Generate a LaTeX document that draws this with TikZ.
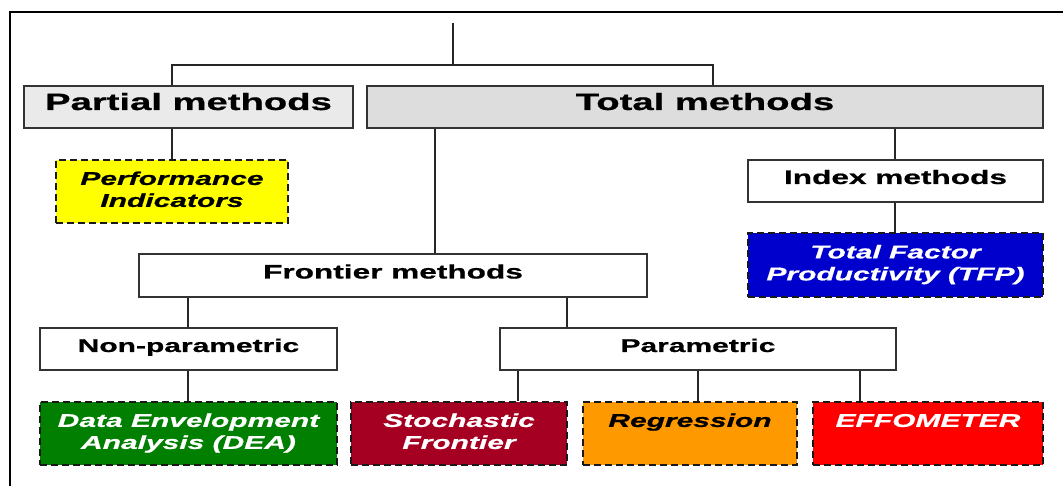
\documentclass[tikz,border=0pt]{standalone}
\usepackage{fontspec}
\setmainfont{Liberation Sans}[FakeStretch=1.62,
  BoldFeatures={FakeBold=0.8}, BoldItalicFeatures={FakeBold=0.8}]
\usetikzlibrary{calc}

\definecolor{partialgray}{HTML}{EAEAEA}
\definecolor{totalgray}{HTML}{DDDDDD}
\definecolor{piyellow}{HTML}{FFFF00}
\definecolor{tfpblue}{HTML}{0000CC}
\definecolor{deagreen}{HTML}{007F00}
\definecolor{sfred}{HTML}{A50021}
\definecolor{regorange}{HTML}{FF9900}
\definecolor{effored}{HTML}{FF0000}
\definecolor{edge}{HTML}{333333}

\tikzset{
  bigbox/.style={draw=edge, line width=1.3pt, inner sep=0pt,
    font=\bfseries\fontsize{23.6}{28}\selectfont, text height=17pt, text depth=11pt},
  midbox/.style={draw=edge, line width=1.3pt, inner sep=0pt, fill=white,
    font=\bfseries\fontsize{18.5}{22}\selectfont, text height=14pt, text depth=8pt},
  widebox/.style={midbox, font=\bfseries\fontsize{19.5}{22}\selectfont},
  leafbox/.style={draw=black!90, line width=2.4pt, dash pattern=on 7pt off 4pt,
    inner sep=0pt, align=center,
    font=\bfseries\itshape\fontsize{18.5}{22}\selectfont},
  link/.style={draw=black!85, line width=1.3pt},
  frame/.style={draw=black, line width=2.2pt}
}

\begin{document}
\begin{tikzpicture}[x=1pt,y=-1pt]
\useasboundingbox (0,0) rectangle (1063,486);

% outer frame (top and left sides)
\draw[frame] (10,486) -- (10,12) -- (1063,12);

% first level
\node[bigbox, fill=partialgray, minimum width=329, minimum height=42] (partial) at (188.5,107) {Partial methods};
\node[bigbox, fill=totalgray, minimum width=676, minimum height=42] (total) at (705,107) {Total methods};

% second level
\node[leafbox, fill=piyellow, text=black, minimum width=232, minimum height=63] (perf) at (172,191.5) {\strut Performance\\Indicators\strut};
\node[widebox, minimum width=295, minimum height=42] (index) at (895.5,181) {Index methods};
\node[leafbox, fill=tfpblue, text=white, minimum width=295, minimum height=64] (tfp) at (895.5,265) {\strut Total Factor\\Productivity (TFP)\strut};
\node[widebox, minimum width=508, minimum height=43] (frontier) at (393,275.5) {Frontier methods};

% third level
\node[midbox, minimum width=297, minimum height=42] (nonpar) at (188.5,349) {Non-parametric};
\node[midbox, minimum width=396, minimum height=42] (par) at (698,349) {Parametric};

% techniques
\node[leafbox, fill=deagreen, text=white, minimum width=297, minimum height=63] (dea) at (188.5,433.5) {\strut Data Envelopment\\Analysis (DEA)\strut};
\node[leafbox, fill=sfred, text=white, minimum width=216, minimum height=63] (sfa) at (459,433.5) {\strut Stochastic\\Frontier\strut};
\node[leafbox, fill=regorange, text=black, minimum width=214, minimum height=63] (regr) at (690,433.5) {\strut Regression\\\strut};
\node[leafbox, fill=effored, text=white, minimum width=230, minimum height=63] (effo) at (928,433.5) {\strut EFFOMETER\\\strut};

% connectors
\coordinate (root) at (453,23);
\coordinate (split) at (453,65);
\draw[link] (root) -- (split);
\draw[link] (partial.north -| 172,0) -- (172,65) -- (713,65) -- (total.north -| 713,0);
\draw[link] (partial.south -| 172,0) -- (perf.north -| 172,0);
\draw[link] (total.south -| 435,0) -- (frontier.north -| 435,0);
\draw[link] (total.south -| 895,0) -- (index.north -| 895,0);
\draw[link] (index.south -| 895,0) -- (tfp.north -| 895,0);
\draw[link] (frontier.south -| 188,0) -- (nonpar.north -| 188,0);
\draw[link] (frontier.south -| 567,0) -- (par.north -| 567,0);
\draw[link] (nonpar.south -| 188,0) -- (dea.north -| 188,0);
\draw[link] (par.south -| 518,0) -- (sfa.north -| 518,0);
\draw[link] (par.south -| 698,0) -- (regr.north -| 698,0);
\draw[link] (par.south -| 860,0) -- (effo.north -| 860,0);
\end{tikzpicture}
\end{document}
